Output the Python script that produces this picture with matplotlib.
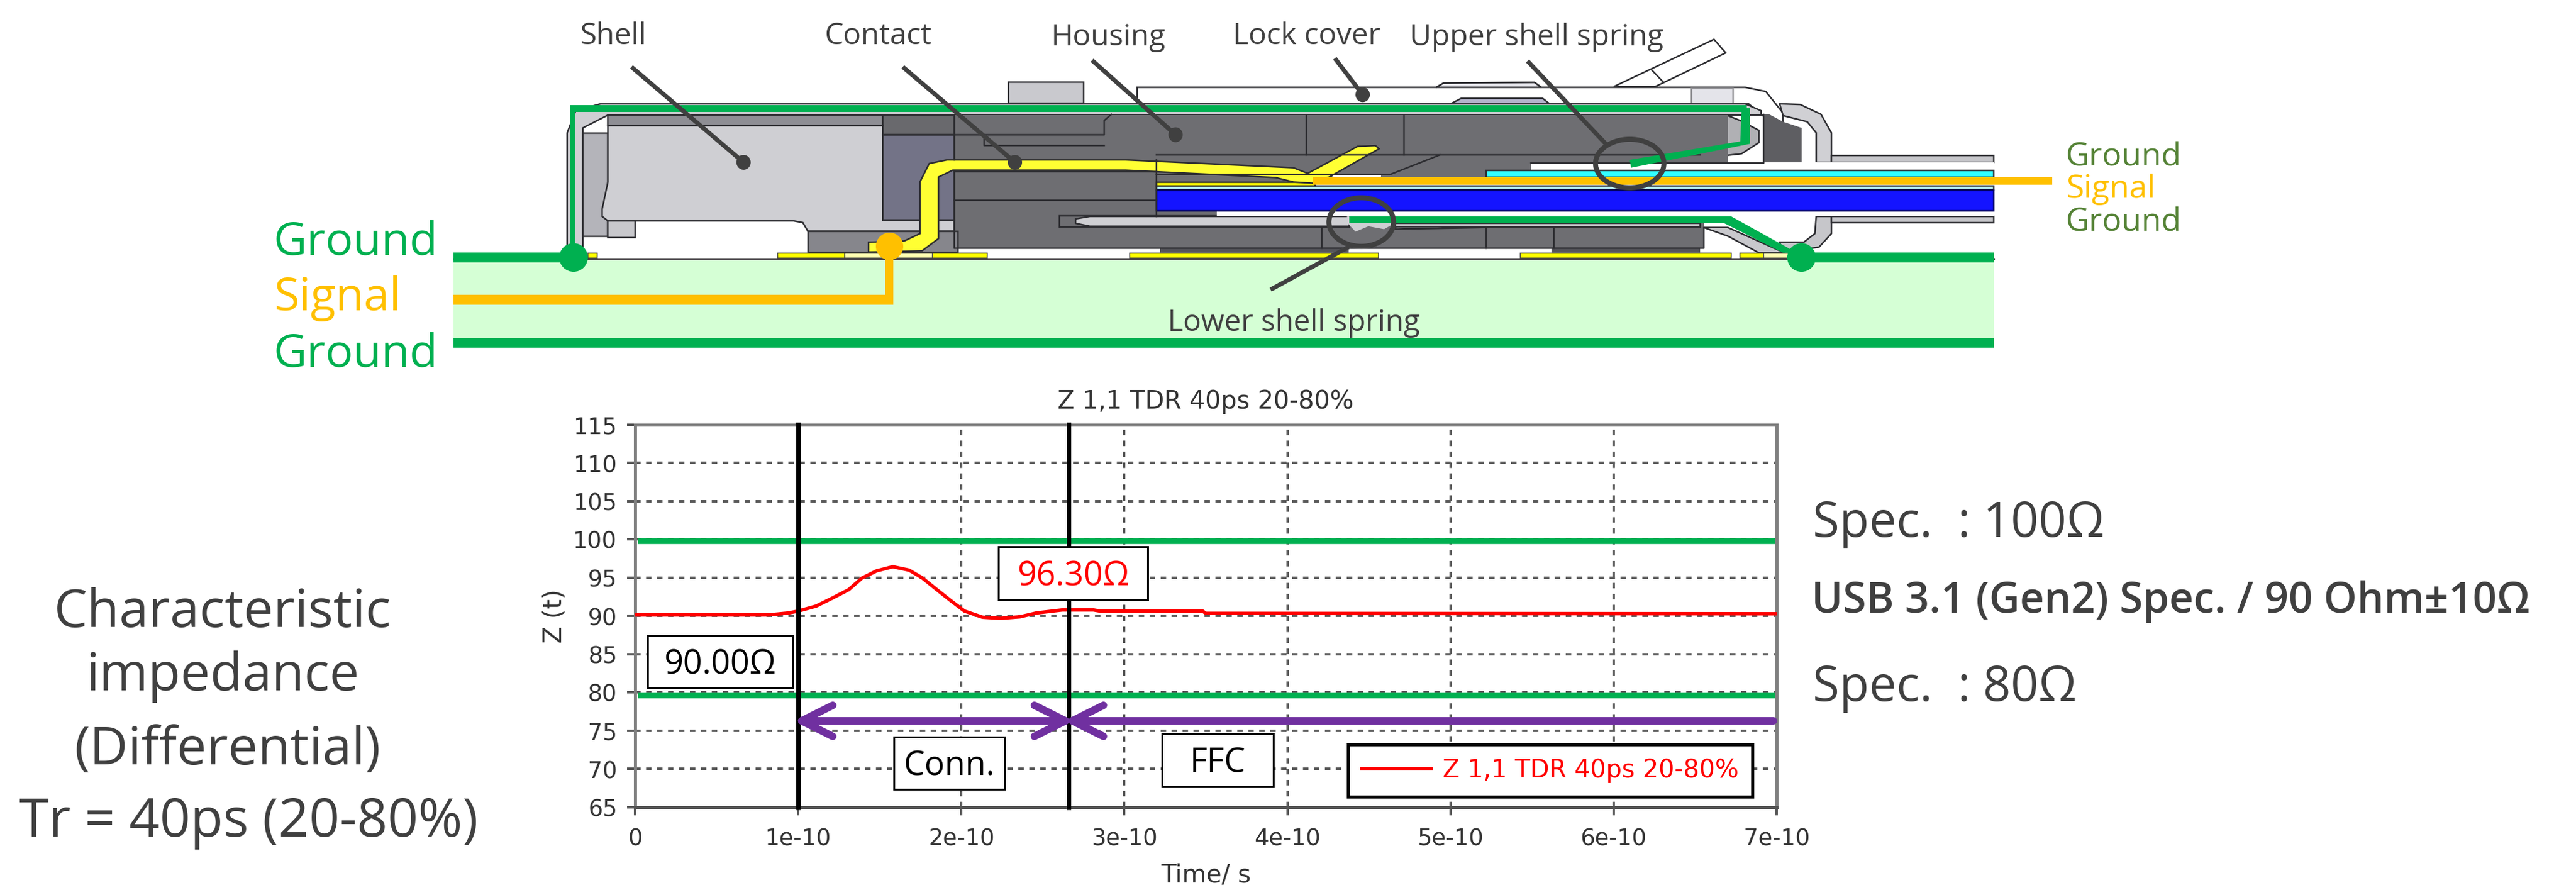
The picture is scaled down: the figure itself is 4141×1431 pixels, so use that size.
import matplotlib
matplotlib.use('Agg')
import matplotlib.pyplot as plt
from matplotlib.patches import Polygon, Rectangle, Ellipse

W, H = 4141, 1431
PT = 0.72  # pixels to points at dpi 100

# --- chart values ---
t_curve = [0, 0.82e-10, 0.94e-10, 1.0e-10, 1.11e-10, 1.21e-10, 1.31e-10, 1.39e-10, 1.48e-10, 1.58e-10,
           1.68e-10, 1.76e-10, 1.85e-10, 1.93e-10, 2.02e-10, 2.13e-10, 2.24e-10, 2.36e-10, 2.46e-10,
           2.62e-10, 2.81e-10, 2.85e-10, 3.48e-10, 3.5e-10, 7e-10]
z_curve = [90.15, 90.15, 90.4, 90.65, 91.3, 92.35, 93.45, 94.95, 95.9, 96.45,
           96.0, 95.0, 93.45, 92.1, 90.65, 89.85, 89.7, 89.9, 90.4,
           90.8, 90.8, 90.65, 90.65, 90.35, 90.3]
x_ticks = [0, 1e-10, 2e-10, 3e-10, 4e-10, 5e-10, 6e-10, 7e-10]
x_tick_labels = ['0', '1e-10', '2e-10', '3e-10', '4e-10', '5e-10', '6e-10', '7e-10']
y_ticks = [65, 70, 75, 80, 85, 90, 95, 100, 105, 110, 115]
spec_upper = 99.8
spec_lower = 79.6
t_start = 1e-10
t_conn_end = 2.66e-10
t_end = 6.98e-10
arrow_z = 76.3
series_name = 'Z 1,1 TDR 40ps 20-80%'
chart_title = 'Z 1,1 TDR 40ps 20-80%'

# --- drawing of the connector, in coordinates of the two crops ---
def za(pts):
    return [(650 + 1800 / 1568 * x, 620 / 1568 * y) for x, y in pts]

def zb(pts):
    return [(2400 + 1741 / 1568 * x, 620 / 1568 * y) for x, y in pts]

def box(x0, y0, x1, y1):
    return [(x0, y0), (x1, y0), (x1, y1), (x0, y1)]

def span(xa, xb, y0, y1):
    return za([(xa, y0)]) + zb([(xb, y0), (xb, y1)]) + za([(xa, y1)])

DARK = '#6e6e72'
LIGHT = '#cfcfd3'
GREEN = '#00b050'
ORANGE = '#ffc000'
EDGE = '#2c2c30'

body_shapes = [
    # lock cover
    (za(box(846, 335, 951, 420)), '#c9c9ce', EDGE),
    (za([(1026, 422), (1026, 355), (1445, 355), (1455, 338)])
     + zb([(60, 335), (70, 355), (365, 355), (395, 372), (420, 460), (420, 545), (408, 562), (395, 545),
           (395, 480), (370, 422)]), 'white', EDGE),
    (za([(1455, 338), (1445, 355)]) + zb([(70, 355), (60, 335)]), '#eeeef4', EDGE),
    (zb(box(287, 358, 348, 422)), '#e4e4ea', '#909094'),
    (zb([(175, 352), (320, 160), (337, 215), (235, 352)]), 'white', EDGE),
    (za([(1465, 422), (1480, 400)]) + zb([(72, 400), (82, 422)]), '#b4b4cc', EDGE),
    # outer shell
    (za([(228, 1020), (228, 540), (240, 450), (275, 422)]) + zb([(365, 422), (388, 450), (388, 468)])
     + za([(285, 468), (250, 520), (250, 1020)]), '#cfcfd3', EDGE),
    (za(box(250, 540, 285, 960)), '#b4b4ba', EDGE),
    (za(box(285, 895, 323, 965)), '#c8c8cc', EDGE),
    (zb([(415, 422), (445, 425), (475, 465), (490, 540), (490, 660), (468, 660), (468, 540), (455, 495), (420, 470)]),
     '#d0d0d4', EDGE),
    (zb([(468, 880), (490, 880), (490, 950), (472, 1005), (420, 1025), (415, 985), (450, 985), (466, 950)]), '#c6c6ca', EDGE),
    (zb(box(490, 633, 725, 660)), '#c6c6ca', EDGE),
    (zb(box(490, 880, 725, 905)), '#c6c6ca', EDGE),
    # housing
    (zb([(338, 468), (358, 490), (385, 530), (385, 580), (360, 625), (250, 660), (150, 660), (150, 468)]), '#b0b0b4', EDGE),
    (span(670, 340, 468, 660), DARK, None),
    (zb([(392, 465), (400, 465), (420, 495), (447, 520), (447, 660), (392, 660)]), '#5e5e62', None),
    (za(box(770, 468, 1053, 1008)), DARK, None),
    (span(1053, 55, 630, 692), DARK, None),
    (za(box(1053, 692, 1515, 742)), DARK, None),
    (za(box(1053, 855, 1138, 880)), DARK, None),
    (span(770, 305, 880, 1008), DARK, None),
    (za(box(1058, 1008, 1322, 1028)), '#55555a', None),
    (zb(box(85, 1008, 300, 1028)), '#55555a', None),
    (za(box(670, 468, 770, 548)), '#69696d', EDGE),
    (za(box(670, 550, 770, 895)), '#737387', EDGE),
    # shell interior
    (za([(285, 510), (670, 510), (670, 895), (720, 895), (770, 895), (770, 940), (565, 940), (558, 905), (545, 898),
         (285, 898), (277, 880), (277, 850), (285, 740)]), LIGHT, EDGE),
    (za(box(285, 468, 670, 510)), '#8e8e94', EDGE),
    (za(box(565, 940, 775, 1028)), '#86868c', EDGE),
    # pin slot and spring tooth
    (za([(917, 878), (1323, 878), (1323, 922), (917, 922)]), DARK, EDGE),
    (za([(960, 880), (1323, 880), (1323, 920), (960, 920), (940, 908), (940, 890)]), LIGHT, EDGE),
    (za([(1320, 905), (1332, 942), (1350, 920), (1372, 932), (1388, 905), (1388, 880), (1320, 880)]), LIGHT, None),
    (span(1388, 300, 908, 922), LIGHT, EDGE),
    (za([(1388, 922), (1515, 922), (1515, 925), (1388, 932)]), LIGHT, EDGE),
    (zb([(305, 925), (340, 925), (422, 1028), (385, 1028), (340, 960)]), '#c8c8cc', EDGE),
    # ffc stack
    (span(1138, 725, 858, 878), 'white', None),
    (zb(box(55, 660, 725, 692)), 'white', None),
    (span(1515, 725, 692, 722), '#33ffff', EDGE),
    (span(1053, 725, 755, 772), '#b8f4f8', EDGE),
    (za(box(1053, 742, 1275, 755)), '#ffff00', EDGE),
    (span(1053, 725, 775, 857), '#1414ff', '#000060'),
    (za(box(1300, 712, 1368, 722)), 'white', None),
    # contact
    (za([(650, 985), (700, 980), (722, 950), (722, 740), (735, 665), (760, 650), (1010, 650), (1245, 682), (1265, 705),
         (1335, 595), (1360, 592), (1365, 605), (1295, 720), (1272, 745), (1245, 740), (1220, 722), (1010, 692), (768, 692),
         (748, 720), (748, 970), (725, 1020), (650, 1025)]), '#ffff33', EDGE),
]

# thin lines on the housing
edge_lines = [
    za([(670, 548), (980, 548), (980, 490), (990, 465)]),
    za([(812, 550), (812, 592), (980, 592)]),
    za([(1263, 468), (1263, 630)]),
    za([(1400, 468), (1400, 630)]),
    za([(1450, 630), (1380, 710), (1053, 710)]),
    za([(1053, 630)]) + zb([(300, 630)]),
    za([(770, 468), (770, 650)]),
    za([(770, 695), (770, 1008)]) + zb([(305, 1008), (305, 925)]),
    za([(770, 697), (1053, 697), (1053, 650)]),
    za([(770, 815), (1053, 815)]),
    za([(1053, 697), (1053, 880)]),
    za([(1285, 925), (1285, 1008)]),
    za([(1515, 925), (1515, 1008)]),
    zb([(55, 662), (392, 662)]),
    zb([(88, 925), (88, 1008)]),
    zb([(392, 465), (392, 660)]),
    zb([(230, 285), (247, 335)]),
]

pads_yellow = [(257, 270), (523, 617), (740, 816), (1016, 1364)]
pads_pale = [(617, 740)]
pads_yellow_b = [(40, 345), (358, 392)]
pads_pale_b = [(392, 428)]

# leader lines, each ends in a dot
leaders = [
    za([(318, 272), (475, 660)]),
    za([(698, 272), (855, 660)]),
    za([(963, 245), (1080, 548)]),
    za([(1303, 237), (1342, 385)]),
]
rings = [(za([(1340, 903)])[0], 52, 39), (zb([(198, 665)])[0], 55, 39)]

fig = plt.figure(figsize=(W / 100, H / 100), dpi=100)

# --- TDR chart ---
chart_font = 'DejaVu Sans'
ax = fig.add_axes([1021 / W, (H - 1298) / H, (2856 - 1021) / W, (1298 - 683) / H])
ax.set_xlim(0, 7e-10)
ax.set_ylim(65, 115)
ax.set_xticks(x_ticks)
ax.set_xticklabels(x_tick_labels)
ax.set_yticks(y_ticks)
ax.grid(True, color='#5a5a5a', lw=4 * PT, ls=(0, (2.2, 2.2)), zorder=1)
ax.set_axisbelow(True)
for side in ['top', 'left', 'right']:
    ax.spines[side].set_color('#808080')
    ax.spines[side].set_linewidth(5 * PT)
ax.spines['bottom'].set_color('#555555')
ax.spines['bottom'].set_linewidth(5 * PT)
ax.tick_params(axis='both', length=13 * PT, width=4 * PT, color='#555555', labelsize=37 * PT, labelcolor='#333333')
ax.tick_params(axis='x', pad=20 * PT)
ax.tick_params(axis='y', pad=16 * PT)
for lab in ax.get_xticklabels() + ax.get_yticklabels():
    lab.set_fontfamily(chart_font)
ax.set_title(chart_title, fontsize=40 * PT, color='#333333', fontfamily=chart_font, pad=26 * PT)
ax.set_xlabel('Time/ s', fontsize=40 * PT, color='#333333', fontfamily=chart_font, labelpad=20 * PT)
ax.set_ylabel('Z (t)', fontsize=40 * PT, color='#333333', fontfamily=chart_font, labelpad=10 * PT)

ax.plot([0.02e-10, 7e-10], [spec_upper, spec_upper], color=GREEN, lw=9.5 * PT, solid_capstyle='butt', zorder=2)
ax.plot([0.02e-10, 7e-10], [spec_lower, spec_lower], color=GREEN, lw=9.5 * PT, solid_capstyle='butt', zorder=2)
ax.plot(t_curve, z_curve, color='#ff0000', lw=5.5 * PT, label=series_name, zorder=3)
for t in [t_start, t_conn_end]:
    ax.plot([t, t], [64.7, 115.3], color='black', lw=7 * PT, solid_capstyle='butt', clip_on=False, zorder=4)
# arrowheads pull back by about 8 px because of the line width, so the ends are pushed out to meet
nudge = 0.03e-10
arrow_props = dict(lw=12 * PT, color='#7030a0', shrinkA=0, shrinkB=0, mutation_scale=1)
ax.annotate('', xy=(t_start - nudge, arrow_z), xytext=(t_conn_end + nudge, arrow_z),
            arrowprops=dict(arrowstyle='<->,head_length=36,head_width=18', **arrow_props), zorder=5)
ax.annotate('', xy=(t_conn_end - nudge, arrow_z), xytext=(t_end, arrow_z),
            arrowprops=dict(arrowstyle='->,head_length=36,head_width=18', **arrow_props), zorder=5)
leg = ax.legend(loc='lower right', bbox_to_anchor=((2817 - 1021) / 1835, (1298 - 1281) / 615),
                bbox_transform=ax.transAxes, prop={'family': chart_font, 'size': 40 * PT}, labelcolor='#ff0000',
                fancybox=False, edgecolor='black', framealpha=1, handlelength=2.8, handletextpad=0.44,
                borderpad=0.55, borderaxespad=0)
leg.get_frame().set_linewidth(5 * PT)

# --- everything else in pixel coordinates, above the chart ---
pix = fig.add_axes([0, 0, 1, 1], zorder=5)
pix.set_xlim(0, W)
pix.set_ylim(H, 0)
pix.axis('off')

pix.add_patch(Rectangle((729, 416), 3205 - 729, 130, fc='#d5ffd5', ec='none', zorder=1))
for pts, fc, ec in body_shapes:
    pix.add_patch(Polygon(pts, closed=True, fc=fc, ec=ec if ec else 'none', lw=2.5 * PT, zorder=2))
for pts in edge_lines:
    xs, ys = zip(*pts)
    pix.plot(xs, ys, color=EDGE, lw=2.5 * PT, zorder=3)
pix.plot([729, 3205], [416, 416], color='#505050', lw=3 * PT, zorder=3)
for group, conv, col in [(pads_yellow, za, '#ffff00'), (pads_pale, za, '#ffffb0'),
                         (pads_yellow_b, zb, '#ffff00'), (pads_pale_b, zb, '#ffffb0')]:
    for x0, x1 in group:
        pix.add_patch(Polygon(conv(box(x0, 1030, x1, 1050)), fc=col, ec='#404040', lw=1.5 * PT, zorder=3))

# ground and signal traces
traces = [
    (box(729, 406, 922, 422), GREEN), (box(2896, 406, 3205, 422), GREEN), (box(729, 544, 3205, 559), GREEN),
    (box(729, 474, 1430, 490), ORANGE), (box(1423, 396, 1436, 490), ORANGE),
    (box(2110, 285, 3299, 297), ORANGE),
    (box(920, 169, 2808, 180), GREEN), (box(916, 169, 925, 414), GREEN),
    (span(1323, 335, 880, 908), GREEN),
    (zb([(335, 880), (345, 880), (440, 1028), (420, 1028), (335, 908)]), GREEN),
    (zb([(372, 440), (372, 585), (200, 682), (198, 650), (358, 575), (360, 440)]), GREEN),
]
for pts, col in traces:
    pix.add_patch(Polygon(pts, closed=True, fc=col, ec='none', zorder=4))
for (cx, cy), col, r in [((922, 414), GREEN, 23), ((2896, 414), GREEN, 23), ((1430, 396), ORANGE, 22)]:
    pix.add_patch(Ellipse((cx, cy), 2 * r, 2 * r, fc=col, ec='none', zorder=4))

LEAD = '#404040'
for pts in leaders:
    xs, ys = zip(*pts)
    pix.plot(xs, ys, color=LEAD, lw=7 * PT, solid_capstyle='butt', zorder=6)
    pix.add_patch(Ellipse(pts[-1], 23, 24, fc=LEAD, ec='none', zorder=6))
for pts in [zb([(50, 248), (165, 590)]), za([(1325, 1000), (1213, 1178)])]:
    xs, ys = zip(*pts)
    pix.plot(xs, ys, color=LEAD, lw=7 * PT, solid_capstyle='butt', zorder=6)
for c, rx, ry in rings:
    pix.add_patch(Ellipse(c, 2 * rx, 2 * ry, fc='none', ec=LEAD, lw=8 * PT, zorder=6))

# labels
font = 'Open Sans'
def label(x, y, s, px, color='#404040', ha='center', **kw):
    pix.text(x, y + 5, s, fontsize=px * PT, color=color, ha=ha, va='center', family=font, zorder=7, **kw)

label(986, 53, 'Shell', 48)
label(1411, 53, 'Contact', 48)
label(1781, 55, 'Housing', 48)
label(2100, 53, 'Lock cover', 48)
label(2470, 55, 'Upper shell spring', 48)
label(2080, 514, 'Lower shell spring', 48)
label(440, 385, 'Ground', 74, GREEN, ha='left')
label(440, 475, 'Signal', 74, ORANGE, ha='left')
label(440, 565, 'Ground', 74, GREEN, ha='left')
label(3321, 247, 'Ground', 52, '#548235', ha='left')
label(3321, 300, 'Signal', 52, ORANGE, ha='left')
label(3321, 352, 'Ground', 52, '#548235', ha='left')
label(358, 981, 'Characteristic', 85)
label(358, 1083, 'impedance', 85)
label(366, 1202, '(Differential)', 85)
label(400, 1318, 'Tr = 40ps (20-80%)', 86)
label(2914, 838, 'Spec.  : 100Ω', 78, ha='left')
label(2912, 963, 'USB 3.1 (Gen2) Spec. / 90 Ohm±10Ω', 68, ha='left', fontweight='semibold')
label(2914, 1101, 'Spec.  : 80Ω', 78, ha='left')

for (x0, y0, x1, y1), s, col in [((1041, 1022, 1274, 1106), '90.00Ω', 'black'),
                                 ((1605, 879, 1845, 964), '96.30Ω', '#ff0000'),
                                 ((1437, 1185, 1615, 1269), 'Conn.', 'black'),
                                 ((1868, 1180, 2047, 1265), 'FFC', 'black')]:
    pix.add_patch(Rectangle((x0, y0), x1 - x0, y1 - y0, fc='white', ec='black', lw=3 * PT, zorder=6))
    label((x0 + x1) / 2, (y0 + y1) / 2, s, 54, col)

fig.savefig('out.png', dpi=100)
